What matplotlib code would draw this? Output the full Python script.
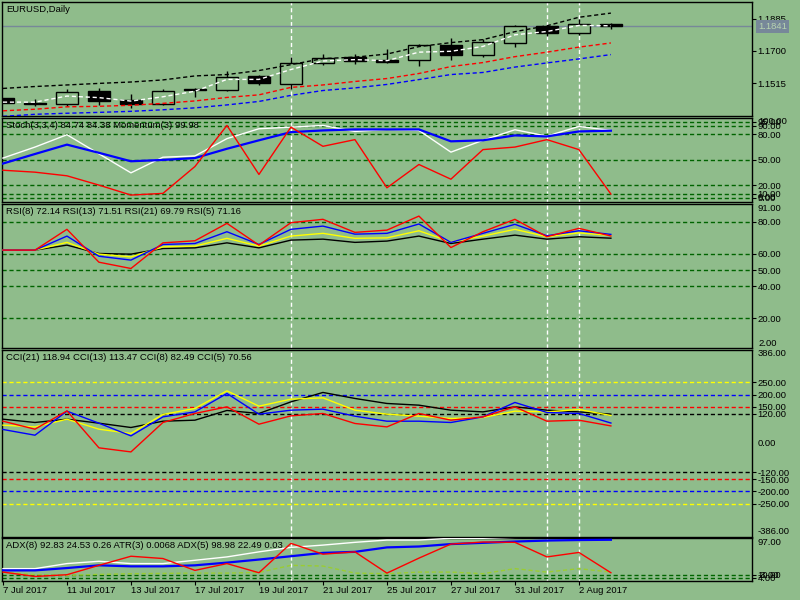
import numpy as np
import matplotlib.pyplot as plt

bg = '#8fbc8b'
lvl_green = '#006400'

plt.rcParams['font.family'] = ['Liberation Sans', 'DejaVu Sans']
plt.rcParams['font.size'] = 6.8

# ---- data (daily EURUSD, 7 Jul 2017 .. 3 Aug 2017) ----
date_labels = ['7 Jul 2017', '11 Jul 2017', '13 Jul 2017', '17 Jul 2017', '19 Jul 2017',
               '21 Jul 2017', '25 Jul 2017', '27 Jul 2017', '31 Jul 2017', '2 Aug 2017']

opens = [1.1427, 1.1402, 1.1394, 1.1467, 1.1415, 1.1396, 1.1477, 1.1477, 1.1557, 1.1511,
         1.1631, 1.1667, 1.1650, 1.1648, 1.1734, 1.1677, 1.1746, 1.1845, 1.1803, 1.1856]
highs = [1.1430, 1.1421, 1.1482, 1.1488, 1.1454, 1.1478, 1.1488, 1.1583, 1.1562, 1.1663,
         1.1685, 1.1685, 1.1711, 1.1740, 1.1776, 1.1769, 1.1847, 1.1851, 1.1886, 1.1862]
lows = [1.1398, 1.1383, 1.1383, 1.1387, 1.1371, 1.1391, 1.1436, 1.1467, 1.1505, 1.1482,
        1.1617, 1.1625, 1.1631, 1.1612, 1.1646, 1.1667, 1.1721, 1.1784, 1.1793, 1.1828]
closes = [1.1402, 1.1394, 1.1465, 1.1411, 1.1396, 1.1471, 1.1479, 1.1551, 1.1514, 1.1631,
          1.1660, 1.1640, 1.1639, 1.1734, 1.1675, 1.1753, 1.1843, 1.1801, 1.1856, 1.1841]
last_price = 1.1841

ma_black = [1.1484, 1.1495, 1.1504, 1.1513, 1.1521, 1.1533, 1.1556, 1.1564, 1.1587, 1.1621,
            1.1656, 1.1664, 1.1682, 1.1725, 1.1748, 1.1765, 1.1811, 1.1845, 1.1894, 1.1918]
ma_red = [1.1355, 1.1364, 1.1378, 1.1381, 1.1387, 1.1398, 1.1412, 1.1432, 1.1447, 1.1490,
          1.1504, 1.1524, 1.1541, 1.1570, 1.1610, 1.1633, 1.1667, 1.1693, 1.1722, 1.1746]
ma_blue = [1.1323, 1.1335, 1.1341, 1.1346, 1.1352, 1.1361, 1.1372, 1.1389, 1.1409, 1.1444,
           1.1472, 1.1487, 1.1507, 1.1535, 1.1564, 1.1576, 1.1607, 1.1631, 1.1654, 1.1679]
ma_white = [1.1405, 1.1405, 1.1440, 1.1431, 1.1411, 1.1436, 1.1468, 1.1536, 1.1536, 1.1593,
            1.1642, 1.1650, 1.1644, 1.1693, 1.1698, 1.1726, 1.1793, 1.1812, 1.1847, 1.1845]

stoch_main = [52, 65, 79.6, 57, 34.5, 53, 54.5, 75, 86.7, 88.6,
              90.6, 83.5, 85.9, 84.7, 59, 73, 85.5, 78, 89.4, 84.74]
stoch_signal = [45.5, 56.8, 67.9, 58.2, 48.2, 49.8, 52, 63, 73, 82.7,
                84.7, 85.9, 85.9, 85.9, 71.8, 73, 78.8, 77.6, 83.5, 84.38]
stoch_red = [37.6, 35.3, 31, 20, 8.2, 10.2, 42, 90.6, 32.6, 88.6,
             65.9, 73.8, 16.8, 44.4, 27, 62, 65, 73.8, 62, 9.4]

rsi_red = [62.4, 62.4, 75.3, 54.9, 51, 66.9, 68.2, 79, 65.5, 79.4,
           81.5, 73.4, 74.8, 83.5, 64, 73.8, 81.5, 70.7, 75.9, 71.16]
rsi_blue = [62.4, 62.4, 71.1, 58.6, 56.2, 65.9, 66.5, 73.8, 65.9, 75.3,
            77.3, 72.3, 72.8, 78.6, 67.2, 72.8, 78.4, 71.3, 74.4, 72.14]
rsi_yellow = [62.4, 62.4, 67.2, 59.9, 58.2, 64.4, 64.9, 69.7, 64.9, 71.1,
              72.8, 69.7, 70, 74.4, 67.5, 71.1, 75.3, 70.7, 73.1, 71.51]
rsi_black = [62.4, 62.4, 65.5, 60.3, 59.9, 63.4, 63.8, 66.9, 63.8, 68.6,
             69.2, 67.2, 68, 71.1, 66.5, 69.2, 71.7, 69.2, 70.7, 69.79]

cci_black = [98.3, 84.7, 98.3, 81.8, 64, 90, 94.2, 134.3, 121.9, 169.8,
             208.7, 183.9, 163.2, 156.2, 135.5, 128.5, 149.2, 135.5, 128.5, 118.94]
cci_yellow = [73.6, 66.5, 98.3, 57, 39.3, 117.8, 142.6, 215.3, 152, 181,
              186.4, 135.5, 119, 110.7, 101.2, 105.4, 131.4, 128.5, 138.4, 113.47]
cci_blue = [55.8, 32.2, 131.4, 81.8, 29.3, 107.9, 128.5, 204.5, 119, 135.5,
            139.7, 110.7, 90, 90, 84.7, 107.9, 167.4, 126, 121.9, 82.49]
cci_red = [90, 57, 132.6, -20, -36.8, 84.7, 121.9, 149.2, 77.7, 112,
           121.9, 80.6, 66.5, 121.9, 94.2, 107.9, 149.2, 90, 94.2, 70.56]

adx_white = [24.9, 24.9, 36.8, 42.2, 36.8, 36.8, 44.6, 52.5, 64.4, 74.9,
             80.3, 86.8, 92.2, 92.2, 96.3, 96.3, 98.5, 99, 99, 98.98]
adx_blue = [20.8, 20.8, 26.3, 32.7, 30.3, 30.3, 32.7, 39.1, 46.3, 54.1,
            62, 64.4, 74.9, 77, 82.7, 85.6, 88.7, 91, 92.2, 92.83]
adx_red = [16.8, 6.5, 10.6, 32.7, 54.1, 48.7, 20.8, 36.8, 15.3, 84.4,
           58.9, 64.4, 14.4, 49.6, 82.7, 87.5, 86.8, 52.5, 63, 15.3]
adx_lime = [16.8, 10.6, 8.9, 11.3, 13, 13.7, 14.4, 14.4, 16, 32.7,
            31, 14.4, 13, 16.8, 16.8, 13, 24.9, 16.8, 24.9, 16.8]

marker_bars = [9, 17, 18]

x = np.arange(len(closes))

fig = plt.figure(figsize=(8, 6), dpi=100, facecolor=bg)


def panel(top, bottom):
    ax = fig.add_axes([2 / 800, 1 - bottom / 600, 750 / 800, (bottom - top) / 600], facecolor=bg)
    ax.set_xlim(-0.03, 23.41)
    for s in ax.spines.values():
        s.set_linewidth(1.0)
        s.set_color('black')
    ax.tick_params(axis='y', left=False, labelleft=False, right=True, labelright=True,
                   length=3, width=0.8, pad=1, direction='out')
    ax.tick_params(axis='x', bottom=False, labelbottom=False)
    for b in marker_bars:
        ax.axvline(b, color='white', lw=1, ls=(0, (3, 2)), zorder=1)
    return ax


def title(ax, text):
    ax.annotate(text, xy=(0, 1), xycoords='axes fraction', xytext=(4, -3),
                textcoords='offset pixels', ha='left', va='top', zorder=10)


def edge_label(ax, val, text, va):
    ax.annotate(text, xy=(1, val), xycoords=('axes fraction', 'data'), xytext=(6, 0),
                textcoords='offset pixels', ha='left', va=va)


def levels(ax, vals, colors):
    for v, c in zip(vals, colors):
        ax.axhline(v, color=c, lw=1, ls=(0, (3, 2)), zorder=1)


# ---- main price panel ----
ax = panel(2, 115.5)
ax.set_ylim(1.1328, 1.1982)
ax.axhline(last_price, color='#778899', lw=1, zorder=1)
ax.vlines(x, lows, highs, color='black', lw=1, zorder=2)
o = np.array(opens)
c = np.array(closes)
faces = ['black' if cc < oo else bg for oo, cc in zip(o, c)]
ax.bar(x, np.maximum(np.abs(c - o), 0.0002), bottom=np.minimum(o, c), width=0.69,
       color=faces, edgecolor='black', linewidth=1, zorder=3)
ax.plot(x, ma_black, color='black', lw=1, ls=(0, (3, 2)), zorder=4)
ax.plot(x, ma_red, color='red', lw=1, ls=(0, (3, 2)), zorder=4)
ax.plot(x, ma_blue, color='blue', lw=1, ls=(0, (3, 2)), zorder=4)
ax.plot(x, ma_white, color='white', lw=1, ls=(0, (3, 2)), zorder=4)
ax.set_yticks([1.1515, 1.1700, 1.1885])
ax.set_yticklabels(['1.1515', '1.1700', '1.1885'])
ax.annotate(f'{last_price:.4f}', xy=(1, last_price), xycoords=('axes fraction', 'data'),
            xytext=(6, 0), textcoords='offset pixels', ha='left', va='center', color='#b8d4b0',
            bbox=dict(boxstyle='square,pad=0.2', fc='#778899', ec='none'))
title(ax, 'EURUSD,Daily')

# ---- stochastic / momentum ----
ax = panel(117.5, 202)
ax.set_ylim(0, 100)
stoch_lv = [95, 90, 80, 50, 20, 10, 5]
levels(ax, stoch_lv, [lvl_green] * len(stoch_lv))
ax.plot(x, stoch_main, color='white', lw=1, zorder=3)
ax.plot(x, stoch_signal, color='blue', lw=1.6, zorder=3)
ax.plot(x, stoch_red, color='red', lw=1, zorder=3)
ax.set_yticks(stoch_lv)
ax.set_yticklabels([f'{v:.2f}' for v in stoch_lv])
edge_label(ax, 100, '100.00', 'top')
edge_label(ax, 0, '0.00', 'bottom')
title(ax, 'Stoch(3,3,4) 84.74 84.38 Momentum(3) 99.98')

# ---- RSI ----
ax = panel(204, 347.5)
ax.set_ylim(2, 91)
rsi_lv = [80, 60, 50, 40, 20]
levels(ax, rsi_lv, [lvl_green] * len(rsi_lv))
ax.plot(x, rsi_black, color='black', lw=1, zorder=3)
ax.plot(x, rsi_yellow, color='yellow', lw=1, zorder=3)
ax.plot(x, rsi_blue, color='blue', lw=1, zorder=3)
ax.plot(x, rsi_red, color='red', lw=1, zorder=3)
ax.set_yticks(rsi_lv)
ax.set_yticklabels([f'{v:.2f}' for v in rsi_lv])
edge_label(ax, 91, '91.00', 'top')
edge_label(ax, 2, '2.00', 'bottom')
title(ax, 'RSI(8) 72.14 RSI(13) 71.51 RSI(21) 69.79 RSI(5) 71.16')

# ---- CCI ----
ax = panel(349.5, 536.5)
ax.set_ylim(-386, 386)
cci_lv = [250, 200, 150, 120, -120, -150, -200, -250]
cci_lc = ['yellow', 'blue', 'red', 'black', 'black', 'red', 'blue', 'yellow']
levels(ax, cci_lv, cci_lc)
ax.plot(x, cci_black, color='black', lw=1, zorder=3)
ax.plot(x, cci_yellow, color='yellow', lw=1, zorder=3)
ax.plot(x, cci_blue, color='blue', lw=1, zorder=3)
ax.plot(x, cci_red, color='red', lw=1, zorder=3)
ax.set_yticks(cci_lv)
ax.set_yticklabels([f'{v:.2f}' for v in cci_lv])
edge_label(ax, 0, '0.00', 'center')
edge_label(ax, 386, '386.00', 'top')
edge_label(ax, -386, '-386.00', 'bottom')
title(ax, 'CCI(21) 118.94 CCI(13) 113.47 CCI(8) 82.49 CCI(5) 70.56')

# ---- ADX / ATR ----
ax = panel(538, 580.5)
ax.set_ylim(-3, 97)
adx_lv = [10, 4]
levels(ax, adx_lv, [lvl_green] * len(adx_lv))
ax.plot(x, adx_lime, color='#9acd32', lw=1, ls=(0, (3, 2)), zorder=3)
ax.plot(x, adx_white, color='white', lw=1, zorder=3)
ax.plot(x, adx_blue, color='blue', lw=1.6, zorder=3)
ax.plot(x, adx_red, color='red', lw=1, zorder=3)
ax.set_yticks(adx_lv)
ax.set_yticklabels(['10.00', '4.00'])
edge_label(ax, 97, '97.00', 'top')
edge_label(ax, -3, '-3.00', 'bottom')
title(ax, 'ADX(8) 92.83 24.53 0.26 ATR(3) 0.0068 ADX(5) 98.98 22.49 0.03')
ax.set_xticks(x[::2])
ax.set_xticklabels(date_labels, ha='left')
ax.tick_params(axis='x', bottom=True, labelbottom=True, length=3, width=0.8, pad=1,
               direction='out')

fig.savefig('out.png', dpi=100, facecolor=bg)
